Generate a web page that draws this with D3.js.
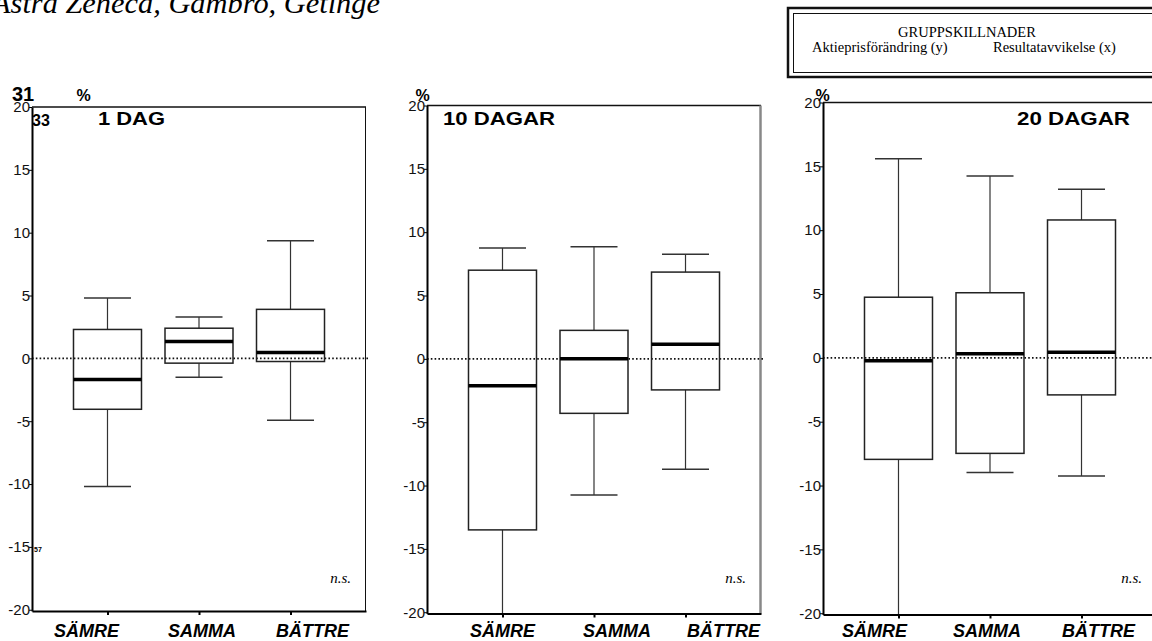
<!DOCTYPE html>
<html>
<head>
<meta charset="utf-8">
<script src="https://cdn.jsdelivr.net/npm/d3@7"></script>
<style>
body { margin: 0; background: #fff; }
svg { display: block; }
</style>
</head>
<body>
<div id="chart"></div>
<script>
// box plots per horizon, groups SÄMRE / SAMMA / BÄTTRE (values in %)
var panels = ["1 DAG", "10 DAGAR", "20 DAGAR"];
var groups = ["SÄMRE", "SAMMA", "BÄTTRE"];
var whisker_hi = [[4.8, 3.3, 9.35], [8.75, 8.85, 8.25], [15.6, 14.25, 13.2]];
var q3 = [[2.3, 2.4, 3.9], [7.0, 2.25, 6.85], [4.75, 5.1, 10.8]];
var median = [[-1.68, 1.35, 0.47], [-2.12, 0.0, 1.15], [-0.23, 0.32, 0.44]];
var q1 = [[-4.05, -0.38, -0.25], [-13.5, -4.3, -2.45], [-7.95, -7.48, -2.9]];
var whisker_lo = [[-10.2, -1.5, -4.92], [-22, -10.75, -8.72], [-22, -8.98, -9.25]];
var y_ticks = [20, 15, 10, 5, 0, -5, -10, -15, -20];

var W = 1152, H = 641;
var svg = d3.select("#chart").append("svg").attr("width", W).attr("height", H);
var sans = "'Liberation Sans', Arial, sans-serif";
var serif = "'Liberation Serif', 'Times New Roman', serif";

// layout of the three panels (axis x, top, bottom, right frame style)
var layout = [
    {x: 32, top: 107, bottom: 611, edge: "#111", edgeW: 1},
    {x: 427, top: 105.5, bottom: 613.5, edge: "#888", edgeW: 2.5},
    {x: 823, top: 102.5, bottom: 614.5, edge: "#888", edgeW: 2.5}
];
var pw = 334;
var label_dx = [[-21, 3, 22], [0, 23, 38], [-24, -3, 17]];
var title_pos = [{x: 98, w: 67}, {x: 443, w: 112}, {x: 1017, w: 113}];

svg.append("text")
    .attr("x", -8).attr("y", 13)
    .attr("textLength", 388).attr("lengthAdjust", "spacingAndGlyphs")
    .style("font-family", serif).style("font-style", "italic").style("font-size", "30px")
    .text("Astra Zeneca, Gambro, Getinge");

// legend box
var leg = svg.append("g");
leg.append("rect").attr("x", 788).attr("y", 8).attr("width", 420).attr("height", 69)
    .style("fill", "#fff").style("stroke", "#111").style("stroke-width", 2.5);
leg.append("rect").attr("x", 793.5).attr("y", 13.5).attr("width", 420).attr("height", 59)
    .style("fill", "none").style("stroke", "#111").style("stroke-width", 1);
leg.append("text").attr("x", 967).attr("y", 37).attr("text-anchor", "middle")
    .style("font-family", serif).style("font-size", "14.5px").text("GRUPPSKILLNADER");
leg.append("text").attr("x", 812).attr("y", 52)
    .style("font-family", serif).style("font-size", "14.5px").text("Aktieprisförändring (y)");
leg.append("text").attr("x", 993).attr("y", 52)
    .style("font-family", serif).style("font-size", "14.5px").text("Resultatavvikelse (x)");

panels.forEach(function(name, p) {
    var L = layout[p];
    var y = d3.scaleLinear().domain([-20.1, 20]).range([L.bottom, L.top]);
    var x = d3.scalePoint().domain(groups).range([L.x, L.x + pw]).padding(0.825);
    var g = svg.append("g");

    g.append("clipPath").attr("id", "clip" + p)
	.append("rect").attr("x", L.x).attr("y", L.top).attr("width", pw).attr("height", L.bottom - L.top);

    // frame top + right
    g.append("line").attr("x1", L.x).attr("x2", L.x + pw).attr("y1", L.top).attr("y2", L.top)
	.style("stroke", "#111").style("stroke-width", 1.5);
    g.append("line").attr("x1", L.x + pw - 0.5).attr("x2", L.x + pw - 0.5).attr("y1", L.top).attr("y2", L.bottom)
	.style("stroke", L.edge).style("stroke-width", L.edgeW);

    // zero reference
    g.append("line").attr("x1", L.x).attr("x2", L.x + pw + 2).attr("y1", y(0)).attr("y2", y(0))
	.style("stroke", "#111").style("stroke-width", 1.6).style("stroke-dasharray", "1.6,2.2");

    var d = groups.map(function(k, i) {
	return {k: k, hi: whisker_hi[p][i], q3: q3[p][i], med: median[p][i], q1: q1[p][i], lo: whisker_lo[p][i]};
    });
    var box = g.append("g").attr("clip-path", "url(#clip" + p + ")")
	.selectAll("g").data(d).join("g");
    var bw = 68, cw = 47;
    box.append("line").attr("x1", b => x(b.k)).attr("x2", b => x(b.k))
	.attr("y1", b => y(b.hi)).attr("y2", b => y(b.q3))
	.style("stroke", "#333").style("stroke-width", 1.2);
    box.append("line").attr("x1", b => x(b.k)).attr("x2", b => x(b.k))
	.attr("y1", b => y(b.q1)).attr("y2", b => y(b.lo))
	.style("stroke", "#333").style("stroke-width", 1.2);
    box.append("line").attr("x1", b => x(b.k) - cw / 2).attr("x2", b => x(b.k) + cw / 2)
	.attr("y1", b => y(b.hi)).attr("y2", b => y(b.hi))
	.style("stroke", "#333").style("stroke-width", 1.5);
    box.filter(b => b.lo > -20).append("line").attr("x1", b => x(b.k) - cw / 2).attr("x2", b => x(b.k) + cw / 2)
	.attr("y1", b => y(b.lo)).attr("y2", b => y(b.lo))
	.style("stroke", "#333").style("stroke-width", 1.5);
    box.append("rect").attr("x", b => x(b.k) - bw / 2).attr("width", bw)
	.attr("y", b => y(b.q3)).attr("height", b => y(b.q1) - y(b.q3))
	.style("fill", "none").style("stroke", "#222").style("stroke-width", 1.5);
    box.append("line").attr("x1", b => x(b.k) - bw / 2).attr("x2", b => x(b.k) + bw / 2)
	.attr("y1", b => y(b.med)).attr("y2", b => y(b.med))
	.style("stroke", "#000").style("stroke-width", 3.5);

    // axes
    var ya = g.append("g").attr("transform", "translate(" + L.x + ",0)")
	.call(d3.axisLeft(y).tickValues(y_ticks).tickFormat(v => String(v))
	      .tickSize(3).tickSizeOuter(0).tickPadding(-1));
    ya.select(".domain").style("stroke", "#000").style("stroke-width", 2);
    ya.selectAll("text").style("font-family", sans).style("font-size", "15px").style("fill", "#111");

    var xa = g.append("g").attr("transform", "translate(0," + L.bottom + ")")
	.call(d3.axisBottom(x).tickSize(4).tickSizeOuter(0).tickFormat(""));
    xa.select(".domain").style("stroke", "#000").style("stroke-width", 2.2);
    xa.selectAll(".tick line").style("stroke-width", 2);

    g.selectAll(".glab").data(groups).join("text")
	.attr("x", (k, i) => x(k) + label_dx[p][i]).attr("y", 637)
	.attr("text-anchor", "middle")
	.style("font-family", sans).style("font-weight", "bold").style("font-style", "italic")
	.style("font-size", "18px").text(k => k);

    g.append("text").attr("x", title_pos[p].x).attr("y", 125)
	.attr("textLength", title_pos[p].w).attr("lengthAdjust", "spacingAndGlyphs")
	.style("font-family", sans).style("font-weight", "bold").style("font-size", "18px").text(name);

    g.append("text").attr("x", L.x + pw - 15).attr("y", 583).attr("text-anchor", "end")
	.style("font-family", serif).style("font-style", "italic").style("font-size", "15px").text("n.s.");
});

// percent marks and stray annotations
var pct_x = [83.5, 422.5, 822.5];
svg.selectAll(".pct").data(pct_x).join("text")
    .attr("x", d => d).attr("y", 101).attr("text-anchor", "middle")
    .style("font-family", sans).style("font-weight", "bold").style("font-size", "16px").text("%");
svg.append("text").attr("x", 12).attr("y", 101)
    .style("font-family", sans).style("font-weight", "bold").style("font-size", "20px").text("31");
svg.append("text").attr("x", 32).attr("y", 126)
    .style("font-family", sans).style("font-weight", "bold").style("font-size", "16px").text("33");
svg.append("text").attr("x", 34).attr("y", 552)
    .style("font-family", sans).style("font-weight", "bold").style("font-size", "7px").text("57");
</script>
</body>
</html>
